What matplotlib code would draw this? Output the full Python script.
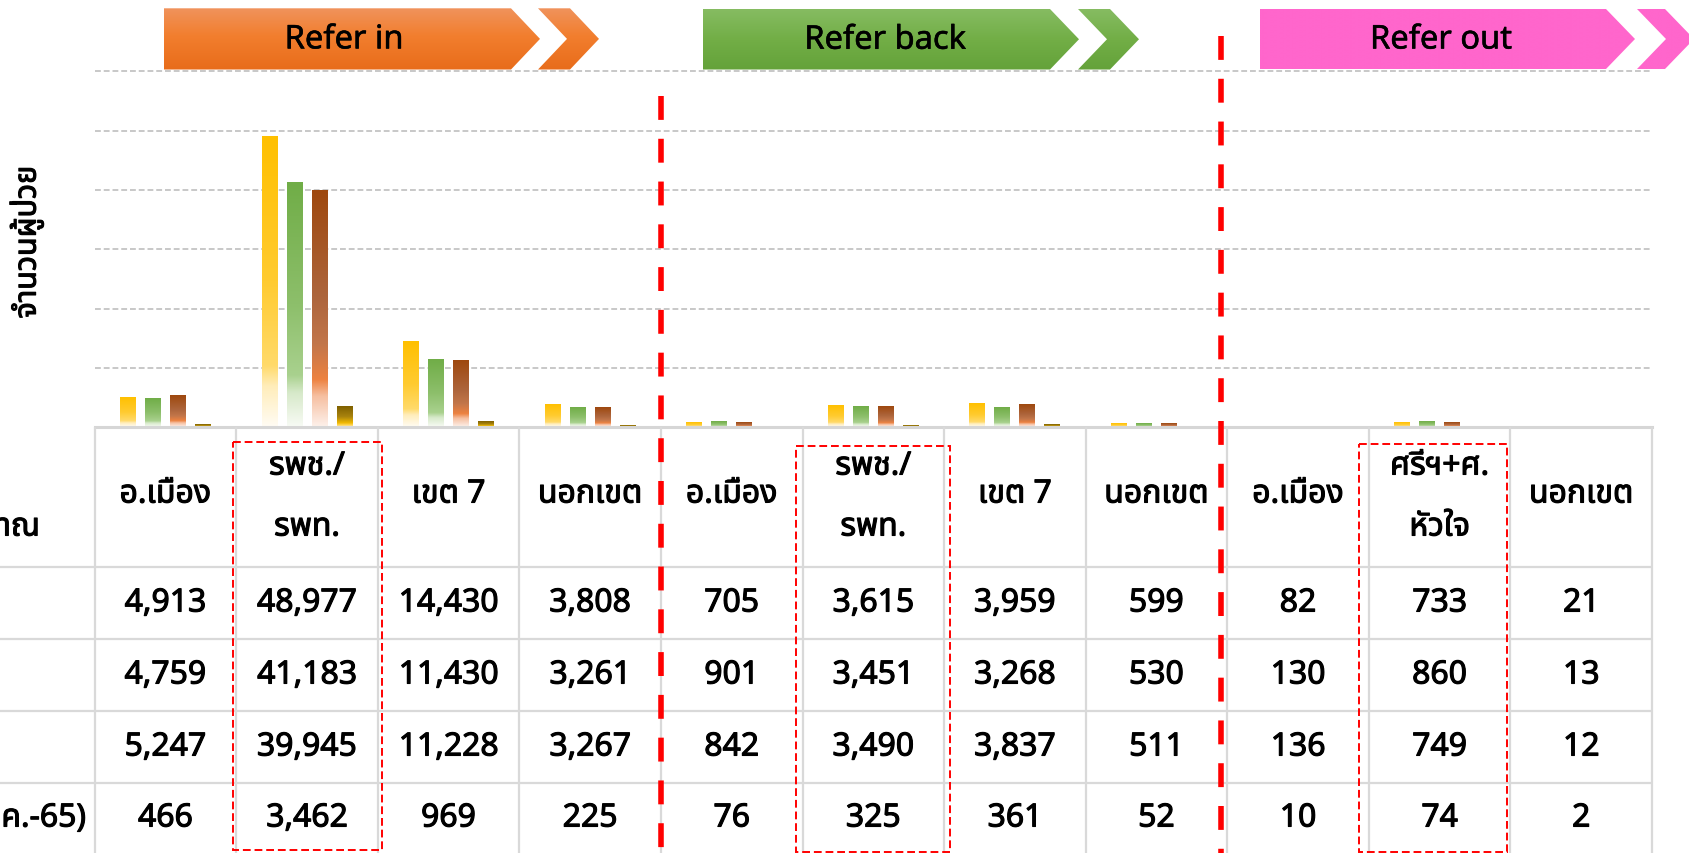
import numpy as np
import matplotlib
matplotlib.use("Agg")
import matplotlib.pyplot as plt
from matplotlib.patches import Polygon, Rectangle
from matplotlib.colors import LinearSegmentedColormap
import matplotlib.font_manager as fm
import matplotlib.patheffects as pe
from matplotlib.ft2font import FT2Font

# ---------------- data ----------------
categories = ["อ.เมือง", "รพช./\nรพท.", "เขต 7", "นอกเขต",
              "อ.เมือง", "รพช./\nรพท.", "เขต 7", "นอกเขต",
              "อ.เมือง", "ศรีฯ+ศ.\nหัวใจ", "นอกเขต"]
series_labels = ["ปีงบ 63", "ปีงบ 64", "ปีงบ 65", "ปีงบ 66 (ต.ค.-65)"]
row_header = "ประมาณ"
s1 = [4913, 48977, 14430, 3808, 705, 3615, 3959, 599, 82, 733, 21]
s2 = [4759, 41183, 11430, 3261, 901, 3451, 3268, 530, 130, 860, 13]
s3 = [5247, 39945, 11228, 3267, 842, 3490, 3837, 511, 136, 749, 12]
s4 = [466, 3462, 969, 225, 76, 325, 361, 52, 10, 74, 2]
series = [s1, s2, s3, s4]
groups = ["Refer in", "Refer back", "Refer out"]
y_label = "จำนวนผู้ป่วย"
y_ticks = [0, 10000, 20000, 30000, 40000, 50000, 60000]

# ---------------- fonts ----------------
def has_thai(path):
    try:
        return 0x0E08 in FT2Font(path).get_charmap()
    except Exception:
        return False

thai_names = {}
for f in fm.fontManager.ttflist:
    if f.name not in thai_names:
        if has_thai(f.fname):
            thai_names[f.name] = True
pref = ["Noto Sans Thai", "Noto Sans Thai UI", "Leelawadee UI", "Tahoma",
        "Noto Sans Thai Looped", "Noto Serif Thai"]
thai = None
for p in pref:
    if p in thai_names:
        thai = p
        break
if thai is None and thai_names:
    thai = sorted(thai_names)[0]
FAM = ([thai] if thai else []) + ["DejaVu Sans"]
plt.rcParams["font.family"] = FAM

BOLD = [pe.withStroke(linewidth=0.8, foreground="black")]

# ---------------- geometry (pixels) ----------------
W, H = 1689, 854
X0, X1 = 94.6, 1652.0
YB, YT = 428.0, 72.5
n = len(categories)
CW = (X1 - X0) / n

fig = plt.figure(figsize=(W / 100, H / 100), dpi=100)
fig.patch.set_facecolor("white")

ax = fig.add_axes([X0 / W, 1 - YB / H, (X1 - X0) / W, (YB - YT) / H])
ax.patch.set_visible(False)

cmaps = [
    LinearSegmentedColormap.from_list("y", [(0, "#FFC000"), (0.5, "#FFCB30"), (0.79, "#FFDA6A"),
                                             (0.86, "#FFEDBA"), (1, "#FFFCF4")]),
    LinearSegmentedColormap.from_list("g", [(0, "#70AD47"), (0.5, "#8DBF6B"), (0.79, "#A9D18E"),
                                             (0.86, "#D6E9C9"), (1, "#F8FBF5")]),
    LinearSegmentedColormap.from_list("b", [(0, "#9E480E"), (0.45, "#AD653C"), (0.65, "#C2764A"),
                                             (0.8, "#ED8240"), (0.87, "#F6BFA0"), (1, "#FDF1EB")]),
    LinearSegmentedColormap.from_list("o", [(0, "#7F6000"), (0.5, "#A8830E"), (0.8, "#F0B800"),
                                             (0.9, "#FFD34D"), (1, "#FFF0C0")]),
]
top_cols = ["#FFC000", "#70AD47", "#9E480E", "#7F6000"]
grad = np.linspace(0, 1, 256).reshape(-1, 1)

x = np.arange(n)
pitch, bw = 0.1766, 0.112
for k, vals in enumerate(series):
    bars = ax.bar(x + (k - 1.5) * pitch, vals, width=bw, color=top_cols[k], linewidth=0, zorder=2)
    for b in bars:
        bx, bwid, bh = b.get_x(), b.get_width(), b.get_height()
        ax.imshow(grad, cmap=cmaps[k], vmin=0, vmax=1, extent=[bx, bx + bwid, 0, bh],
                  aspect="auto", origin="upper", interpolation="bilinear", zorder=3)

ax.set_xlim(-0.5, n - 0.5)
ax.set_ylim(y_ticks[0], y_ticks[-1])
ax.set_aspect("auto")
ax.set_yticks(y_ticks)
ax.set_xticks([])
ax.tick_params(length=0, labelleft=False, labelbottom=False)
ax.yaxis.grid(True, color="#C8C8C8", linestyle=(0, (3, 1.5)), linewidth=1.4)
for gl in ax.get_ygridlines():
    gl.set_clip_on(False)
ax.set_axisbelow(True)
for s in ["top", "left", "right"]:
    ax.spines[s].set_visible(False)
ax.spines["bottom"].set_color("#D6D6D6")
ax.spines["bottom"].set_linewidth(2.2)
ax.spines["bottom"].set_zorder(4)

# ---------------- overlay in pixel coords ----------------
ov = fig.add_axes([0, 0, 1, 1])
ov.set_xlim(0, W)
ov.set_ylim(H, 0)
ov.axis("off")
ov.patch.set_visible(False)

# table grid
LC = "#D9D9D9"
for i in range(n + 1):
    xx = X0 + i * CW
    ov.plot([xx, xx], [YB, H + 2], color=LC, lw=1.6, zorder=1, solid_capstyle="butt")
row_lines = [567.7, 640.0, 712.0, 784.0]
for yy in row_lines:
    ov.plot([0, X1], [yy, yy], color=LC, lw=1.6, zorder=1, solid_capstyle="butt")

# header texts
TFS = 23
def ttext(xx, yy, s, **kw):
    return ov.text(xx, yy, s, fontsize=kw.pop("fontsize", TFS), color="black",
                   path_effects=BOLD, **kw)

for i, c in enumerate(categories):
    cx = X0 + (i + 0.5) * CW
    parts = c.split("\n")
    if len(parts) == 1:
        ttext(cx, 495, parts[0], ha="center", va="center")
    else:
        ttext(cx, 467, parts[0], ha="center", va="center")
        ttext(cx, 528, parts[1], ha="center", va="center")

row_centers = [604, 676, 748, 819]
for r, vals in enumerate(series):
    for i, v in enumerate(vals):
        cx = X0 + (i + 0.5) * CW
        ttext(cx, row_centers[r], f"{v:,}", ha="center", va="center")

# row labels (cropped at left edge, as in the original)
ttext(40, 528, row_header, ha="right", va="center")
ttext(86, row_centers[3], series_labels[3], ha="right", va="center")

# y label
ttext(27, 243, y_label, rotation=90, ha="center", va="center", fontsize=22)

# banners
def banner(x_left, x_corner, x_tip, c_left, c_right, y0, y1, cmap, label, tx):
    ym = (y0 + y1) / 2
    d = x_tip - x_corner
    body = [(x_left, y0), (x_corner, y0), (x_tip, ym), (x_corner, y1), (x_left, y1)]
    chev = [(c_left, y0), (c_right, y0), (c_right + d, ym), (c_right, y1), (c_left, y1), (c_left + d, ym)]
    for pts in (body, chev):
        poly = Polygon(pts, closed=True, facecolor="none", edgecolor="none")
        ov.add_patch(poly)
        xs = [p[0] for p in pts]
        im = ov.imshow(grad, cmap=cmap, vmin=0, vmax=1,
                       extent=[min(xs), max(xs), y1, y0], aspect="auto", origin="upper",
                       interpolation="bilinear", zorder=2)
        im.set_clip_path(poly)
    ov.text(tx, ym + 1, label, ha="center", va="center", fontsize=23.5, color="black", zorder=4,
            path_effects=[pe.withStroke(linewidth=0.4, foreground="black")])

orange = LinearSegmentedColormap.from_list("or", [(0, "#F0935C"), (0.45, "#F27E2E"), (1, "#E86C1A")])
green = LinearSegmentedColormap.from_list("gr", [(0, "#86BC62"), (0.5, "#72AE46"), (1, "#64A23A")])
pink = LinearSegmentedColormap.from_list("pk", [(0, "#FF66CC"), (1, "#FF66CC")])
banner(164, 511, 540, 538, 570, 9.3, 70.5, orange, groups[0], 344)
banner(703, 1050, 1079, 1078, 1110, 10, 70.5, green, groups[1], 885)
banner(1260, 1606, 1635, 1637, 1665, 10, 70, pink, groups[2], 1441)

# red dashed separators
ov.plot([X0 + 4 * CW] * 2, [97, H + 10], color="#FF0000", lw=4.0,
        linestyle=(0, (4.3, 3.4)), zorder=5)
ov.plot([X0 + 8 * CW - 6] * 2, [37, H + 10], color="#FF0000", lw=4.0,
        linestyle=(0, (4.3, 3.4)), zorder=5)

# red dashed boxes
for (bx0, by0, bx1, by1) in [(233, 443, 382, 851), (796.5, 447, 950, 852.5), (1359, 445, 1507, 852.5)]:
    ov.add_patch(Rectangle((bx0, by0), bx1 - bx0, by1 - by0, fill=False, edgecolor="#FF0000",
                           lw=1.4, linestyle=(0, (4, 2)), zorder=5))

fig.savefig("out.png", dpi=100, facecolor="white")
